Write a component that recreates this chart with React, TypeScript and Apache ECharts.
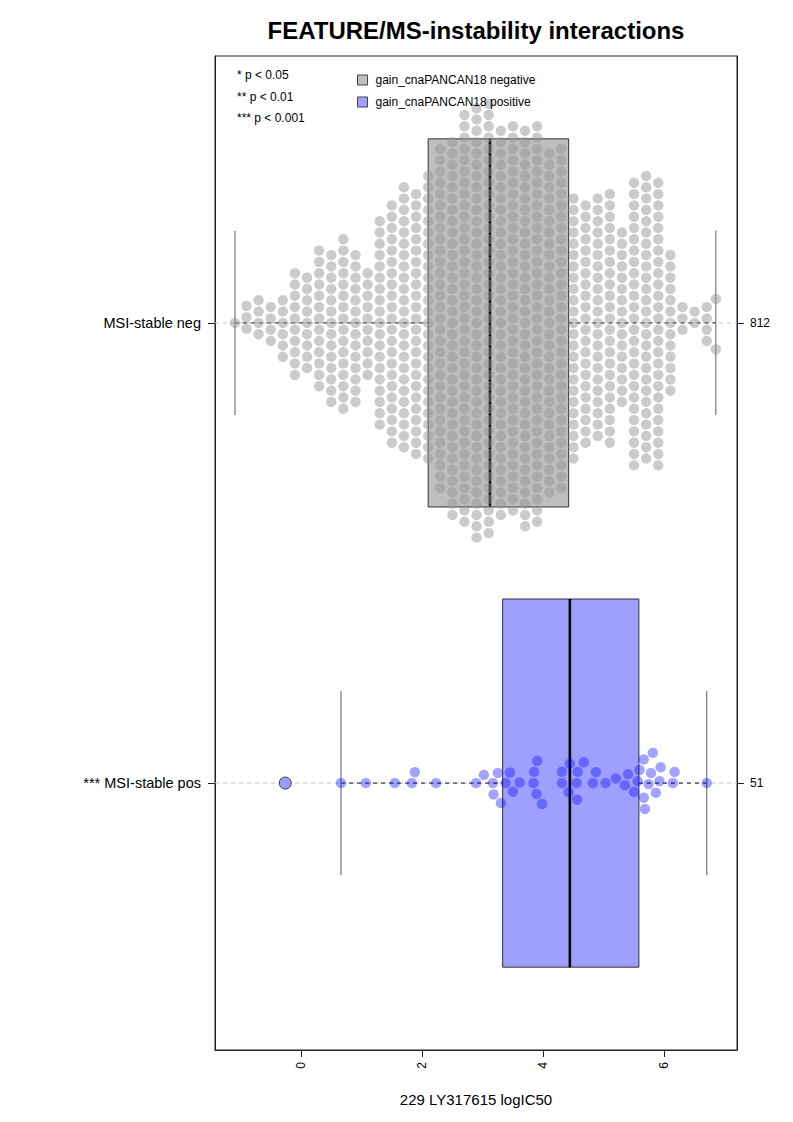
import React, { useEffect, useRef } from "react";
import * as echarts from "echarts";

const FONT = "'Liberation Sans', Arial, Helvetica, sans-serif";

// ---------- data ----------
const titleText = "FEATURE/MS-instability interactions";
const xAxisTitle = "229 LY317615 logIC50";
const xTicks = [0, 2, 4, 6];
const groupLabels = ["*** MSI-stable pos", "MSI-stable neg"]; // y = 1, y = 2
const groupCounts = ["51", "812"];
const legendNames = ["gain_cnaPANCAN18 negative", "gain_cnaPANCAN18 positive"];
const pNotes = ["* p < 0.05", "** p < 0.01", "*** p < 0.001"];

// MSI-stable neg: estimated histogram of logIC50 values (value, number of cell lines)
const negValues = [
  -1.09, -0.9, -0.7, -0.5, -0.3, -0.1, 0.1, 0.3, 0.5, 0.7, 0.9, 1.1, 1.3, 1.5, 1.7, 1.9,
  2.1, 2.3, 2.5, 2.7, 2.9, 3.1, 3.3, 3.5, 3.7, 3.9, 4.1, 4.3, 4.5, 4.7, 4.9, 5.1, 5.3,
  5.5, 5.7, 5.9, 6.1, 6.3, 6.5, 6.7, 6.85,
];
const negCounts = [
  1, 3, 4, 4, 6, 10, 9, 13, 14, 16, 14, 10, 19, 22, 24, 24,
  26, 31, 34, 37, 39, 39, 35, 35, 36, 36, 31, 31, 24, 22, 22, 23, 16,
  26, 26, 26, 13, 3, 2, 4, 2,
];

// MSI-stable pos: individual values (51)
const posValues = [
  -0.26, 0.66, 1.07, 1.55, 1.83, 1.88, 2.23, 2.89, 3.02, 3.17, 3.18, 3.25, 3.3, 3.38, 3.45,
  3.5, 3.61, 3.84, 3.85, 3.89, 3.9, 3.98, 4.31, 4.31, 4.42, 4.44, 4.55, 4.56, 4.57, 4.67,
  4.82, 4.87, 5.03, 5.2, 5.35, 5.4, 5.5, 5.56, 5.59, 5.66, 5.66, 5.68, 5.74, 5.78, 5.81,
  5.86, 5.92, 5.94, 6.14, 6.17, 6.7,
];

// box statistics [min whisker, Q1, median, Q3, max whisker]
const negBox = [-1.09, 2.1, 3.12, 4.42, 6.85];
const posBox = [0.66, 3.33, 4.44, 5.58, 6.7];
const posOutliers = [-0.26];

// ---------- layout constants ----------
const W = 793;
const H = 1122;
const GRID = { left: 215, right: 56, top: 56, bottom: 72 };
const XMIN = -1.42;
const XMAX = 7.2;
const YMIN = 0.42;
const YMAX = 2.58;
const PLOT_W = W - GRID.left - GRID.right;
const PLOT_H = H - GRID.top - GRID.bottom;
const PX_X = PLOT_W / (XMAX - XMIN);
const PX_Y = PLOT_H / (YMAX - YMIN);
const DOT = 10.4;

// beeswarm "swarm" layout, ascending priority (like R beeswarm)
function swarm(values: number[], sx: number, sy: number): number[] {
  const idx = values.map((_, i) => i).sort((a, b) => values[a] - values[b] || a - b);
  const xs: number[] = [];
  const ys: number[] = [];
  const out = new Array(values.length).fill(0);
  for (const i of idx) {
    const xi = (values[i] * PX_X) / sx;
    const pre: { x: number; y: number }[] = [];
    for (let j = 0; j < xs.length; j++) if (xi - xs[j] < 1) pre.push({ x: xs[j], y: ys[j] });
    let yi = 0;
    if (pre.length) {
      pre.sort((a, b) => Math.abs(a.y) - Math.abs(b.y));
      const offs = pre.map((p) => Math.sqrt(Math.max(0, 1 - (xi - p.x) ** 2)));
      const poty = [0, ...pre.map((p, k) => p.y + offs[k]), ...pre.map((p, k) => p.y - offs[k])];
      let best = Infinity;
      for (const c of poty) {
        if (Math.abs(c) >= Math.abs(best)) continue;
        let bad = false;
        for (const p of pre) {
          if ((xi - p.x) ** 2 + (c - p.y) ** 2 < 0.999) {
            bad = true;
            break;
          }
        }
        if (!bad) best = c;
      }
      yi = best;
    }
    xs.push(xi);
    ys.push(yi);
    out[i] = yi * sy;
  }
  return out;
}

function swarmPoints(values: number[], groupY: number, sx: number, sy: number): number[][] {
  const offs = swarm(values, sx, sy);
  return values.map((v, i) => [v, groupY + offs[i] / PX_Y]);
}

function expand(values: number[], counts: number[]): number[] {
  const out: number[] = [];
  values.forEach((v, i) => {
    for (let k = 0; k < counts[i]; k++) out.push(v);
  });
  return out;
}

function boxSeries(name: string, stats: number[], groupY: number, fill: string) {
  return {
    type: "custom",
    name,
    silent: true,
    clip: false,
    itemStyle: { color: fill, borderColor: "#333" },
    encode: { x: [0, 1, 2, 3, 4], y: 5 },
    data: [[...stats, groupY]],
    renderItem: (params: any, api: any) => {
      const mn = api.value(0);
      const q1 = api.value(1);
      const md = api.value(2);
      const q3 = api.value(3);
      const mx = api.value(4);
      const y = api.value(5);
      const cs = params.coordSys;
      const P = (a: number, b: number) => api.coord([a, b]);
      const yc = P(0, y)[1];
      const bh = 0.4;
      const sh = 0.2;
      const children: any[] = [];
      children.push({
        type: "line",
        shape: { x1: cs.x, y1: yc, x2: cs.x + cs.width, y2: yc },
        style: { stroke: "#c4c4c4", lineWidth: 1, lineDash: [4, 4] },
      });
      children.push({
        type: "line",
        shape: { x1: P(mn, y)[0], y1: yc, x2: P(q1, y)[0], y2: yc },
        style: { stroke: "#111", lineWidth: 1, lineDash: [4, 4] },
      });
      children.push({
        type: "line",
        shape: { x1: P(q3, y)[0], y1: yc, x2: P(mx, y)[0], y2: yc },
        style: { stroke: "#111", lineWidth: 1, lineDash: [4, 4] },
      });
      for (const v of [mn, mx]) {
        const a = P(v, y + sh);
        const b = P(v, y - sh);
        children.push({
          type: "line",
          shape: { x1: a[0], y1: a[1], x2: b[0], y2: b[1] },
          style: { stroke: "#777", lineWidth: 1.2 },
        });
      }
      const a = P(q1, y + bh);
      const b = P(q3, y - bh);
      children.push({
        type: "rect",
        shape: { x: a[0], y: a[1], width: b[0] - a[0], height: b[1] - a[1] },
        style: { fill, stroke: "#333", lineWidth: 1 },
      });
      const m1 = P(md, y + bh);
      const m2 = P(md, y - bh);
      children.push({
        type: "line",
        shape: { x1: m1[0], y1: m1[1], x2: m2[0], y2: m2[1] },
        style: { stroke: "#000", lineWidth: 2.6 },
      });
      return { type: "group", children };
    },
  };
}

export default function App() {
  const ref = useRef<HTMLDivElement>(null);

  useEffect(() => {
    if (!ref.current) return;
    const chart = echarts.init(ref.current, undefined, { renderer: "svg" });

    const negPts = swarmPoints(expand(negValues, negCounts), 2, 13.2, 11.3);
    const posPts = swarmPoints(posValues, 1, 11.3, 11.3);

    const axisLineStyle = { color: "#222", width: 1 };

    const option: any = {
      animation: false,
      backgroundColor: "#ffffff",
      textStyle: { fontFamily: FONT },
      grid: {
        left: GRID.left,
        right: GRID.right,
        top: GRID.top,
        bottom: GRID.bottom,
        show: true,
        borderColor: "#222",
        borderWidth: 1,
        backgroundColor: "transparent",
        outerBoundsMode: "none",
      },
      legend: {
        left: 352,
        top: 68,
        orient: "vertical",
        itemWidth: 16,
        itemHeight: 10,
        itemGap: 8,
        selectedMode: false,
        icon: "path://M0,0H10V10H0Z",
        textStyle: { fontSize: 12, color: "#000", fontFamily: FONT, lineHeight: 14 },
        data: [
          { name: legendNames[0], itemStyle: { color: "#bebebe", borderColor: "#444", borderWidth: 1 } },
          { name: legendNames[1], itemStyle: { color: "#9f9fff", borderColor: "#444", borderWidth: 1 } },
        ],
      },
      xAxis: {
        type: "value",
        min: XMIN,
        max: XMAX,
        name: xAxisTitle,
        nameLocation: "middle",
        nameGap: 42,
        nameTextStyle: { fontSize: 15, color: "#000", fontFamily: FONT },
        axisLine: { show: true, onZero: false, lineStyle: axisLineStyle },
        axisTick: { show: true, customValues: xTicks, length: 7, lineStyle: axisLineStyle },
        axisLabel: {
          customValues: xTicks,
          rotate: 90,
          margin: 12,
          fontSize: 12,
          color: "#000",
          fontFamily: FONT,
        },
        splitLine: { show: false },
      },
      yAxis: [
        {
          type: "value",
          min: YMIN,
          max: YMAX,
          position: "left",
          axisLine: { show: true, onZero: false, lineStyle: axisLineStyle },
          axisTick: { show: true, customValues: [1, 2], length: 7, lineStyle: axisLineStyle },
          axisLabel: {
            customValues: [1, 2],
            formatter: (v: number) => (Math.round(v) === 2 ? groupLabels[1] : groupLabels[0]),
            margin: 14,
            fontSize: 14.5,
            color: "#000",
            fontFamily: FONT,
          },
          splitLine: { show: false },
        },
        {
          type: "value",
          min: YMIN,
          max: YMAX,
          position: "right",
          axisLine: { show: true, onZero: false, lineStyle: axisLineStyle },
          axisTick: { show: true, customValues: [1, 2], length: 7, lineStyle: axisLineStyle },
          axisLabel: {
            customValues: [1, 2],
            formatter: (v: number) => (Math.round(v) === 2 ? groupCounts[1] : groupCounts[0]),
            margin: 13,
            fontSize: 12,
            color: "#000",
            fontFamily: FONT,
          },
          splitLine: { show: false },
        },
      ],
      graphic: [
        {
          type: "text",
          x: GRID.left + PLOT_W / 2,
          y: 30,
          style: {
            text: titleText,
            fontSize: 24,
            fontWeight: "bold",
            fontFamily: FONT,
            fill: "#000",
            textAlign: "center",
            textVerticalAlign: "middle",
            align: "center",
            verticalAlign: "middle",
          },
        },
        ...pNotes.map((t, i) => ({
          type: "text",
          x: 237,
          y: 75 + i * 21.5,
          style: {
            text: t,
            fontSize: 12,
            fontFamily: FONT,
            fill: "#000",
            textAlign: "left",
            textVerticalAlign: "middle",
            align: "left",
            verticalAlign: "middle",
          },
        })),
      ],
      series: [
        boxSeries(legendNames[0], negBox, 2, "#bebebe"),
        boxSeries(legendNames[1], posBox, 1, "#9f9fff"),
        {
          type: "scatter",
          name: "neg points",
          silent: true,
          symbol: "circle",
          symbolSize: DOT,
          itemStyle: { color: "rgba(149,149,149,0.62)", borderWidth: 0 },
          data: negPts,
        },
        {
          type: "scatter",
          name: "pos points",
          silent: true,
          symbol: "circle",
          symbolSize: DOT,
          itemStyle: { color: "rgba(0,0,255,0.45)", borderWidth: 0 },
          data: posPts,
        },
        {
          type: "scatter",
          name: "pos outliers",
          silent: true,
          symbol: "circle",
          symbolSize: 12,
          itemStyle: { color: "#9a9aff", borderColor: "#111", borderWidth: 1 },
          data: posOutliers.map((v) => [v, 1]),
        },
      ],
    };

    chart.setOption(option);
    return () => chart.dispose();
  }, []);

  return (
    <div
      ref={ref}
      style={{ position: "fixed", left: 0, top: 0, width: W, height: H, background: "#fff" }}
    />
  );
}
